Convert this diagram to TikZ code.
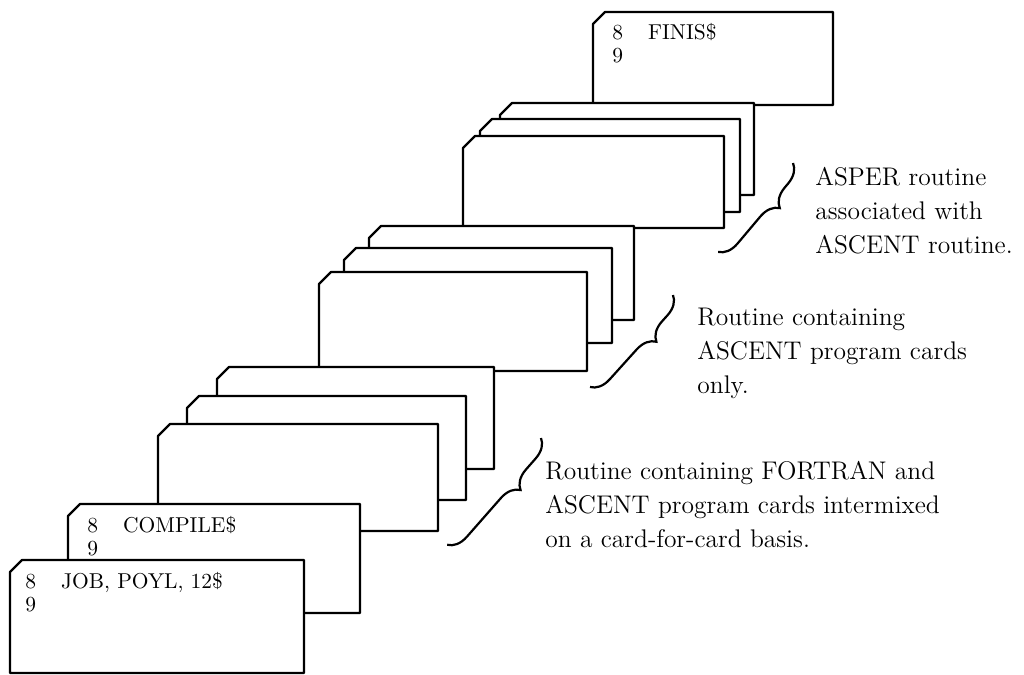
\documentclass[tikz,border=0pt]{standalone}
\usepackage{tikz}
\usetikzlibrary{decorations.pathreplacing}

\newcommand{\punchcard}[4]{%
  \draw[card] (#1,#4) -- (#1,#2+12) -- (#1+12,#2) -- (#3,#2) -- (#3,#4) -- cycle;}

\begin{document}
\begin{tikzpicture}[x=0.5pt,y=-0.5pt,
    card/.style={draw,fill=white,line width=1.2pt,line join=round},
    cardtext/.style={anchor=base west,align=left,inner sep=0pt,font=\fontsize{10.75}{11.5}\selectfont},
    bracket/.style={decorate,decoration={brace,amplitude=9.5pt,aspect=0.37},line width=1.1pt},
    note/.style={anchor=base west,align=left,inner sep=0pt,font=\fontsize{12.75}{17}\selectfont}]
	\useasboundingbox (0,0) rectangle (1024,675);

	\punchcard{593}{12}{833}{105}
	\punchcard{500}{103}{754}{195}
	\punchcard{480}{119}{740}{212}
	\punchcard{463}{136}{724}{228}
	\punchcard{369}{226}{634}{320}
	\punchcard{344}{248}{612}{343}
	\punchcard{319}{272}{587}{371}
	\punchcard{217}{367}{494}{469}
	\punchcard{187}{396}{466}{500}
	\punchcard{158}{424}{438}{531}
	\punchcard{68}{504}{360}{613}
	\punchcard{10}{560}{304}{673}

	% last line of each node sits at the given point
	\node[cardtext] (finis) at (612,62) {8\hspace{12.5pt}FINIS\$\\9};
	\node[cardtext] (compile) at (87,555) {8\hspace{12.5pt}COMPILE\$\\9};
	\node[cardtext] (job) at (25,611) {8\hspace{12.5pt}JOB, POYL, 12\$\\9};

	\draw[bracket] (793,163) -- (718,252);
	\draw[bracket] (673,295) -- (590,387);
	\draw[bracket] (541,438) -- (447,545);

	\node[note] (asper) at (815,253) {ASPER routine\\associated with\\ASCENT routine.};
	\node[note] (ascent) at (697,393) {Routine containing\\ASCENT program cards\\only.};
	\node[note] (mixed) at (545,547) {Routine containing FORTRAN and\\ASCENT program cards intermixed\\on a card-for-card basis.};
\end{tikzpicture}
\end{document}
